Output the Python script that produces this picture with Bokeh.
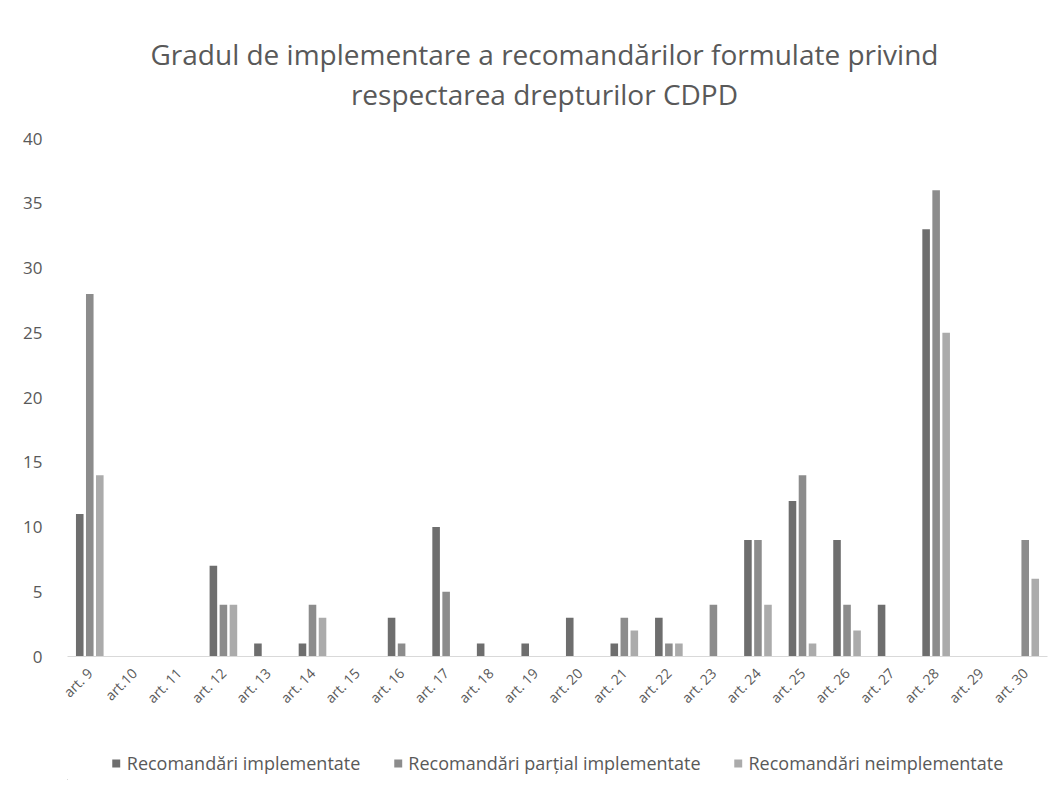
import math
from bokeh.plotting import figure
from bokeh.layouts import column
from bokeh.models import (ColumnDataSource, FactorRange, Range1d, FixedTicker,
                          Legend, LegendItem, Label)
from bokeh.transform import dodge
from bokeh.embed import file_html
from bokeh.resources import INLINE

categories = ["art. 9", "art.10", "art. 11", "art. 12", "art. 13", "art. 14", "art. 15",
              "art. 16", "art. 17", "art. 18", "art. 19", "art. 20", "art. 21", "art. 22",
              "art. 23", "art. 24", "art. 25", "art. 26", "art. 27", "art. 28", "art. 29",
              "art. 30"]
implementate =   [11, 0, 0, 7, 1, 1, 0, 3, 10, 1, 1, 3, 1, 3, 0, 9, 12, 9, 4, 33, 0, 0]
partial_impl =   [28, 0, 0, 4, 0, 4, 0, 1, 5, 0, 0, 0, 3, 1, 4, 9, 14, 4, 0, 36, 0, 9]
neimplementate = [14, 0, 0, 4, 0, 3, 0, 0, 0, 0, 0, 0, 2, 1, 0, 4, 1, 2, 0, 25, 0, 6]
series_names = ["Recomandări implementate", "Recomandări parțial implementate",
                "Recomandări neimplementate"]
title_lines = ["Gradul de implementare a recomandărilor formulate privind",
               "respectarea drepturilor CDPD"]
y_ticks = [0, 5, 10, 15, 20, 25, 30, 35, 40]

FONT = "Open Sans"
TXT = "#595959"
colors = ["#6e6e6e", "#8c8c8c", "#ababab"]
W = 1052


def strip(h, left=0):
    f = figure(width=W, height=h, x_range=Range1d(0, W - left), y_range=Range1d(0, h),
               output_backend="svg", toolbar_location=None, x_axis_type=None,
               y_axis_type=None, min_border=0, min_border_left=left, min_border_right=0,
               min_border_top=0, min_border_bottom=0)
    f.outline_line_color = None
    f.xgrid.visible = False
    f.ygrid.visible = False
    return f


# title strip
tf = strip(120)
for txt, yy in zip(title_lines, [67, 27]):
    tf.add_layout(Label(x=512, y=yy, text=txt, text_align="center", text_baseline="middle",
                        text_font=FONT, text_font_size="28px", text_color=TXT))

# main chart
src = ColumnDataSource(dict(cat=categories, a=implementate, b=partial_impl, c=neimplementate))
p = figure(width=W, height=626, x_range=FactorRange(*categories, range_padding=0),
           y_range=Range1d(0, 40), output_backend="svg", toolbar_location=None,
           min_border_left=67, min_border_right=5, min_border_bottom=90, min_border_top=18)
p.outline_line_color = None

for col, off, colr in zip(["a", "b", "c"], [-0.225, 0.0, 0.225], colors):
    p.vbar(x=dodge("cat", off, range=p.x_range), top=col, width=0.17, source=src,
           fill_color=colr, line_color=None)

p.xgrid.visible = False
p.ygrid.visible = False

p.yaxis.ticker = FixedTicker(ticks=y_ticks)
p.yaxis.axis_line_color = None
p.yaxis.major_tick_line_color = None
p.yaxis.minor_tick_line_color = None
p.yaxis.major_label_text_font = FONT
p.yaxis.major_label_text_font_size = "17px"
p.yaxis.major_label_text_color = TXT
p.yaxis.major_label_standoff = 19

p.xaxis.axis_line_color = "#d9d9d9"
p.xaxis.major_tick_line_color = None
p.xaxis.minor_tick_line_color = None
p.xaxis.major_label_orientation = math.pi / 4
p.xaxis.major_label_text_font = FONT
p.xaxis.major_label_text_font_size = "14px"
p.xaxis.major_label_text_color = TXT
p.xaxis.major_label_standoff = 8

# legend strip
lg = strip(34, left=18)
items = []
for n, colr in zip(series_names, colors):
    r = lg.vbar(x=[-100], top=[1], width=1, fill_color=colr, line_color=None)
    items.append(LegendItem(label=n, renderers=[r]))
legend = Legend(items=items, orientation="horizontal", location="center",
                label_text_font=FONT, label_text_font_size="18px", label_text_color=TXT,
                glyph_width=10, glyph_height=10, spacing=32, label_standoff=6,
                border_line_color=None, background_fill_alpha=0, margin=0, padding=2)
lg.add_layout(legend, "center")

layout = column(tf, p, lg, spacing=0)
open("out.html", "w").write(file_html(layout, INLINE))
